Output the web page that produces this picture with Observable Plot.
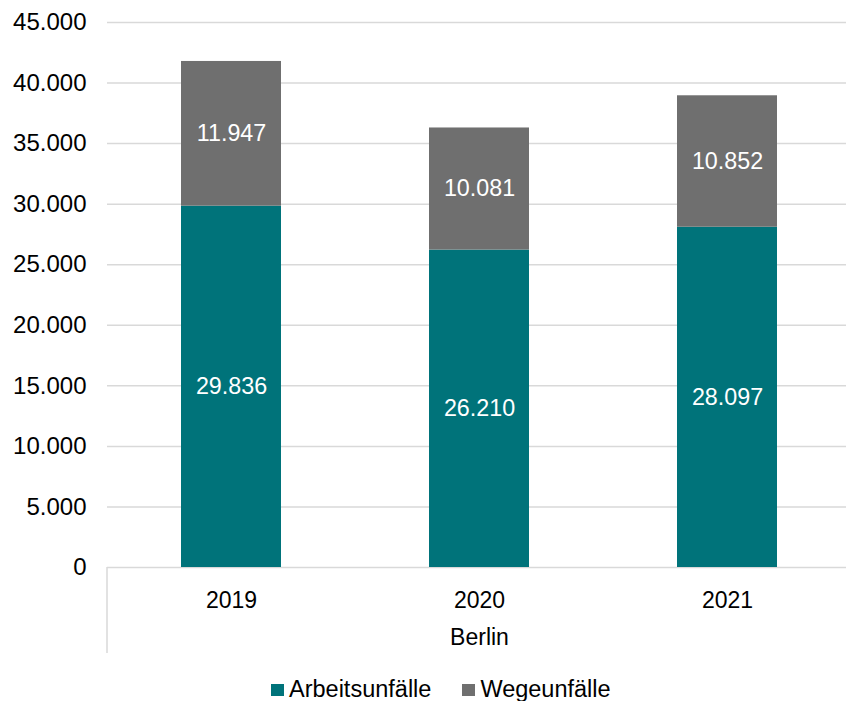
<!DOCTYPE html>
<html>
<head>
<meta charset="utf-8">
<script src="https://cdn.jsdelivr.net/npm/d3@7"></script>
<script src="https://cdn.jsdelivr.net/npm/@observablehq/plot@0.6"></script>
<style>
  body { margin: 0; background: #fff; font-family: "Liberation Sans", Arial, sans-serif; }
  #wrap { position: relative; width: 846px; height: 701px; overflow: hidden; }
  #legend { position: absolute; left: 271px; top: 676px; display: flex; align-items: center; font-size: 23.5px; color: #000; }
  .sw { width: 13px; height: 12px; display: inline-block; margin-right: 5px; }
  .item { display: flex; align-items: center; margin-right: 31px; }
</style>
</head>
<body>
<div id="wrap"><div id="chart"></div><div id="legend"></div></div>
<script>
const years = ["2019", "2020", "2021"];
const seriesNames = ["Arbeitsunfälle", "Wegeunfälle"];
const arbeitsunfaelle = [29836, 26210, 28097];
const wegeunfaelle = [11947, 10081, 10852];
const colors = ["#00737a", "#6f6f6f"];
const yTicks = [0, 5000, 10000, 15000, 20000, 25000, 30000, 35000, 40000, 45000];
const groupLabel = "Berlin";

const data = [];
years.forEach((y, i) => {
  data.push({year: y, series: seriesNames[0], value: arbeitsunfaelle[i]});
  data.push({year: y, series: seriesNames[1], value: wegeunfaelle[i]});
});

const loc = d3.formatLocale({decimal: ",", thousands: ".", grouping: [3], currency: ["", "€"]});
const fmt = loc.format(",d");

const W = 846, H = 665, mL = 107, mR = -5, mT = 22, mB = 98;

const chart = Plot.plot({
  width: W, height: H,
  marginLeft: mL, marginRight: mR, marginTop: mT, marginBottom: mB,
  style: {fontFamily: "Liberation Sans, Arial, sans-serif", fontSize: "23px", color: "#000", background: "#fff", overflow: "visible"},
  x: {type: "band", domain: years, padding: 0},
  y: {domain: [0, 45000]},
  color: {domain: seriesNames, range: colors},
  marks: [
    Plot.ruleY(yTicks, {stroke: "#d9d9d9", strokeWidth: 1.5}),
    Plot.barY(data, Plot.stackY({x: "year", y: "value", fill: "series", insetLeft: 74, insetRight: 74})),
    Plot.text(data, Plot.stackY({x: "year", y: "value", z: "series", text: d => fmt(d.value), fill: "white", fontSize: 23.3})),
    Plot.axisY({ticks: yTicks, tickFormat: fmt, tickSize: 0, tickPadding: 21, label: null, fontSize: 24}),
    Plot.axisX({tickSize: 0, tickPadding: 24, label: null, fontSize: 23}),
    Plot.text([groupLabel], {frameAnchor: "bottom", lineAnchor: "middle", dy: 70, fontSize: 23, fill: "#000"})
  ]
});

// category divider line at the left edge of the category axis
d3.select(chart).append("line")
  .attr("x1", mL).attr("x2", mL)
  .attr("y1", H - mB).attr("y2", H - mB + 86)
  .attr("stroke", "#d9d9d9").attr("stroke-width", 1.5);

document.getElementById("chart").appendChild(chart);

const legend = document.getElementById("legend");
seriesNames.forEach((s, i) => {
  const it = document.createElement("span");
  it.className = "item";
  it.innerHTML = `<span class="sw" style="background:${colors[i]}"></span><span>${s}</span>`;
  legend.appendChild(it);
});
</script>
</body>
</html>
